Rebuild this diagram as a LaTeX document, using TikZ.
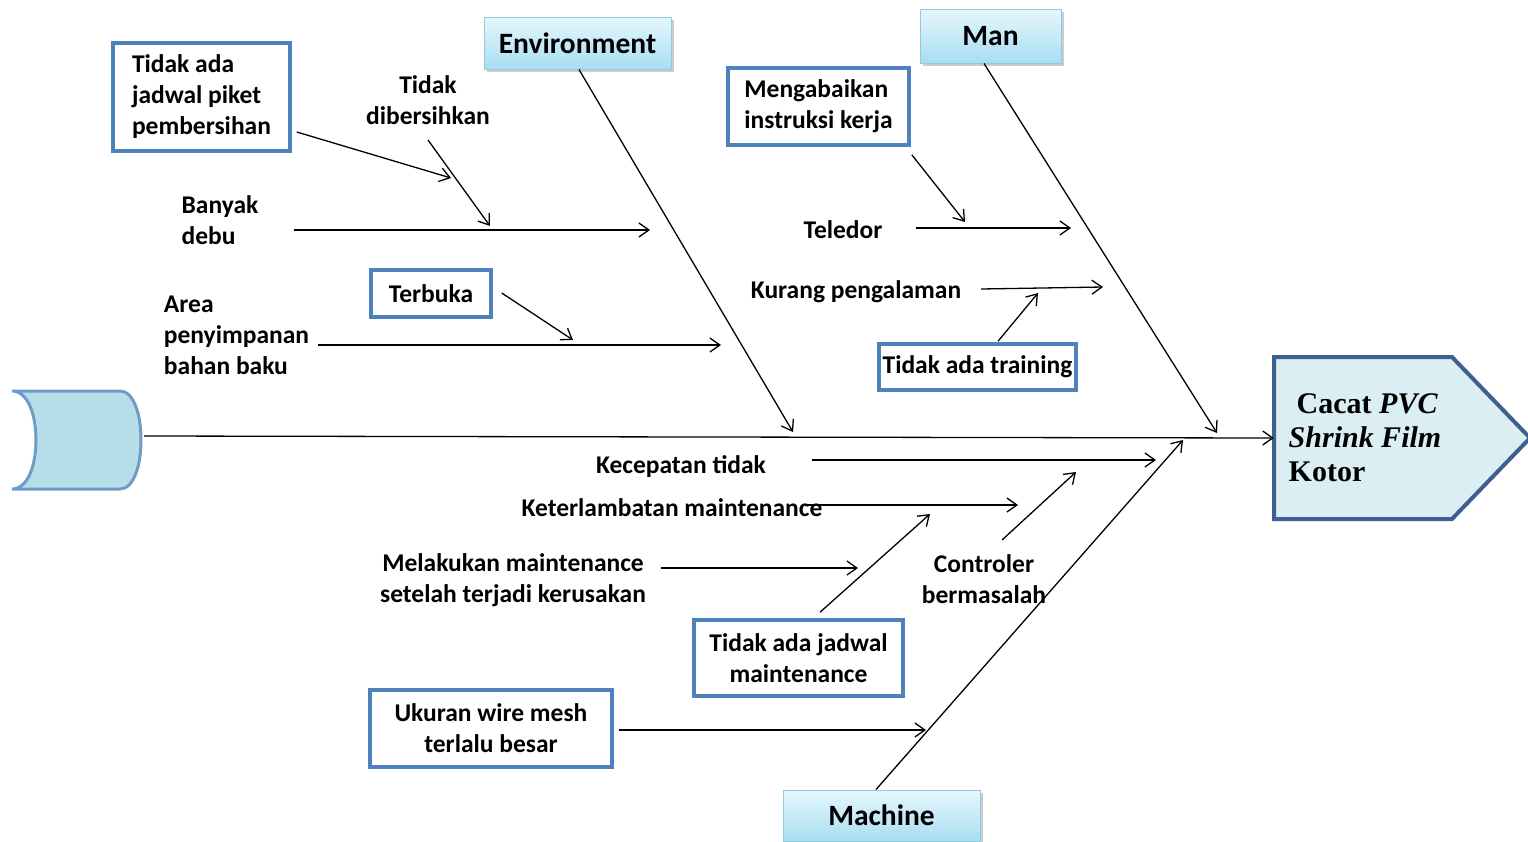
\documentclass[tikz,border=0pt]{standalone}
\usepackage{fontspec}
\setmainfont{Carlito}
\newfontfamily\headfont{Liberation Serif}
\usetikzlibrary{arrows.meta,calc,shadows}
\definecolor{boxblue}{HTML}{4F81BD}
\definecolor{catborder}{HTML}{8CCBE0}
\definecolor{cattop}{HTML}{E6F7FC}
\definecolor{catbot}{HTML}{A8DEF2}
\definecolor{headfill}{HTML}{DBEEF4}
\definecolor{headline}{HTML}{3C6190}
\definecolor{tailfill}{HTML}{B7DEE8}
\definecolor{tailline}{HTML}{6E9BC7}
\begin{document}
\begin{tikzpicture}[x=1pt,y=-1pt,
  lbl/.style={font=\fontsize{25.5}{31}\selectfont\bfseries, inner sep=0pt, align=center},
  lbll/.style={lbl, align=left},
  cause/.style={draw=boxblue, line width=3.5pt, fill=white, inner sep=0pt,
    font=\fontsize{25.5}{31}\selectfont\bfseries, align=center},
  cat/.style={draw=catborder, line width=1pt, top color=cattop, bottom color=catbot,
    inner sep=0pt, font=\fontsize{29.5}{34}\selectfont\bfseries,
    drop shadow={shadow xshift=2.5pt, shadow yshift=-2.5pt, opacity=0.4}},
  arr/.style={-{Straight Barb[length=10pt,width=14pt]}, line width=1.3pt},
]
\useasboundingbox (0,0) rectangle (1528,841);

% tail of the fish
\draw[fill=tailfill, draw=tailline, line width=3pt]
  (12,391) -- (120,391) .. controls (134,391) and (141,415) .. (141,440)
  .. controls (141,465) and (134,489) .. (120,489) -- (12,489)
  .. controls (28,489) and (36,465) .. (36,440)
  .. controls (36,415) and (28,391) .. (12,391) -- cycle;
\node[minimum width=129pt, minimum height=98pt, inner sep=0pt] (tail) at (76.5,440) {};

% head of the fish
\draw[fill=headfill, draw=headline, line width=4pt, line join=miter]
  (1274,357) -- (1452,357) -- (1530,438) -- (1452,519) -- (1274,519) -- cycle;
\node[minimum width=178pt, minimum height=162pt, inner sep=0pt, align=left,
  font=\headfont\fontsize{30}{34}\selectfont\bfseries] (head) at (1365,438)
  {\hspace{8pt}Cacat \textit{PVC}\\\textit{Shrink Film}\\Kotor};

% category boxes
\node[cat, minimum width=187pt, minimum height=52pt] (env) at (577.5,43) {Environment};
\node[cat, minimum width=141pt, minimum height=54pt] (man) at (990.5,36) {Man};
\node[cat, minimum width=197pt, minimum height=51pt] (machine) at (881.5,815.5) {Machine};

% spine and main bones
\draw[arr] ($(tail.east)+(3,-4)$) -- ($(head.west)+(-2,0)$);
\coordinate (envEnd) at (793,432);
\coordinate (manEnd) at (1217,433);
\coordinate (machEnd) at (1183,440);
\draw[arr] ($(env.south)+(1.5,0)$) -- (envEnd);
\draw[arr] ($(man.south)+(-6.5,0)$) -- (manEnd);
\draw[arr] ($(machine.north)+(-5.5,0)$) -- (machEnd);

% ---- Environment causes
\node[cause, minimum width=177pt, minimum height=108pt, align=left] (piket) at (201.5,97)
  {Tidak ada\\jadwal piket\\pembersihan};
\node[lbl] (dibersih) at (428,100.5) {Tidak\\dibersihkan};
\node[lbll] (debu) at (220,220.5) {Banyak\\debu};
\node[cause, minimum width=120pt, minimum height=47pt] (terbuka) at (431,293.5) {Terbuka};
\node[lbll] (area) at (236.5,335) {Area\\penyimpanan\\bahan baku};

\coordinate (debuEnd) at (650,230);
\coordinate (areaEnd) at (721,345);
\coordinate (piketEnd) at (451,178);
\coordinate (dibersihEnd) at (490,226);
\coordinate (terbukaEnd) at (573,340);
\draw[arr] ($(debu.center)+(74,9.5)$) -- (debuEnd);
\draw[arr] ($(piket.east)+(5,35)$) -- (piketEnd);
\draw[arr] ($(dibersih.center)+(0,39.5)$) -- (dibersihEnd);
\draw[arr] ($(area.center)+(81.5,10)$) -- (areaEnd);
\draw[arr] ($(terbuka.east)+(9,-0.5)$) -- (terbukaEnd);

% ---- Man causes
\node[cause, minimum width=181pt, minimum height=77pt, align=left] (abai) at (818.5,106.5)
  {Mengabaikan\\instruksi kerja};
\node[lbl] (teledor) at (843,230) {Teledor};
\node[lbl] (kurang) at (856,292) {Kurang pengalaman};
\node[cause, minimum width=197pt, minimum height=46pt] (training) at (977.5,367) {Tidak ada training};

\coordinate (teledorEnd) at (1071,228);
\coordinate (abaiEnd) at (965,222);
\coordinate (kurangEnd) at (1103,287);
\coordinate (trainingEnd) at (1038,293);
\draw[arr] ($(teledor.center)+(73,-2)$) -- (teledorEnd);
\draw[arr] ($(abai.south east)+(1,8)$) -- (abaiEnd);
\draw[arr] ($(kurang.center)+(125,-3)$) -- (kurangEnd);
\draw[arr] ($(training.north)+(20.5,-1)$) -- (trainingEnd);

% ---- Machine causes
\node[lbl] (kecepatan) at (681,467) {Kecepatan tidak};
\node[lbl] (telat) at (672,508) {Keterlambatan maintenance};
\node[lbl] (melakukan) at (513,580.5) {Melakukan maintenance\\setelah terjadi kerusakan};
\node[lbl] (controler) at (984,579) {Controler\\bermasalah};
\node[cause, minimum width=209pt, minimum height=76pt] (jadwal) at (798.5,658)
  {Tidak ada jadwal\\maintenance};
\node[cause, minimum width=242pt, minimum height=77pt] (mesh) at (491,728.5)
  {Ukuran wire mesh\\terlalu besar};

\coordinate (kecepatanEnd) at (1156,460);
\coordinate (telatEnd) at (1018,505);
\coordinate (melakukanEnd) at (858,568);
\coordinate (controlerEnd) at (1076,472);
\coordinate (jadwalEnd) at (930,514);
\coordinate (meshEnd) at (926,730);
\draw[arr] ($(kecepatan.center)+(131,-7)$) -- (kecepatanEnd);
\draw[arr] ($(telat.center)+(133,-3)$) -- (telatEnd);
\draw[arr] ($(melakukan.center)+(148,-12.5)$) -- (melakukanEnd);
\draw[arr] ($(controler.center)+(18,-39)$) -- (controlerEnd);
\draw[arr] ($(jadwal.north)+(21.5,-6)$) -- (jadwalEnd);
\draw[arr] ($(mesh.east)+(5,1.5)$) -- (meshEnd);
\end{tikzpicture}
\end{document}
